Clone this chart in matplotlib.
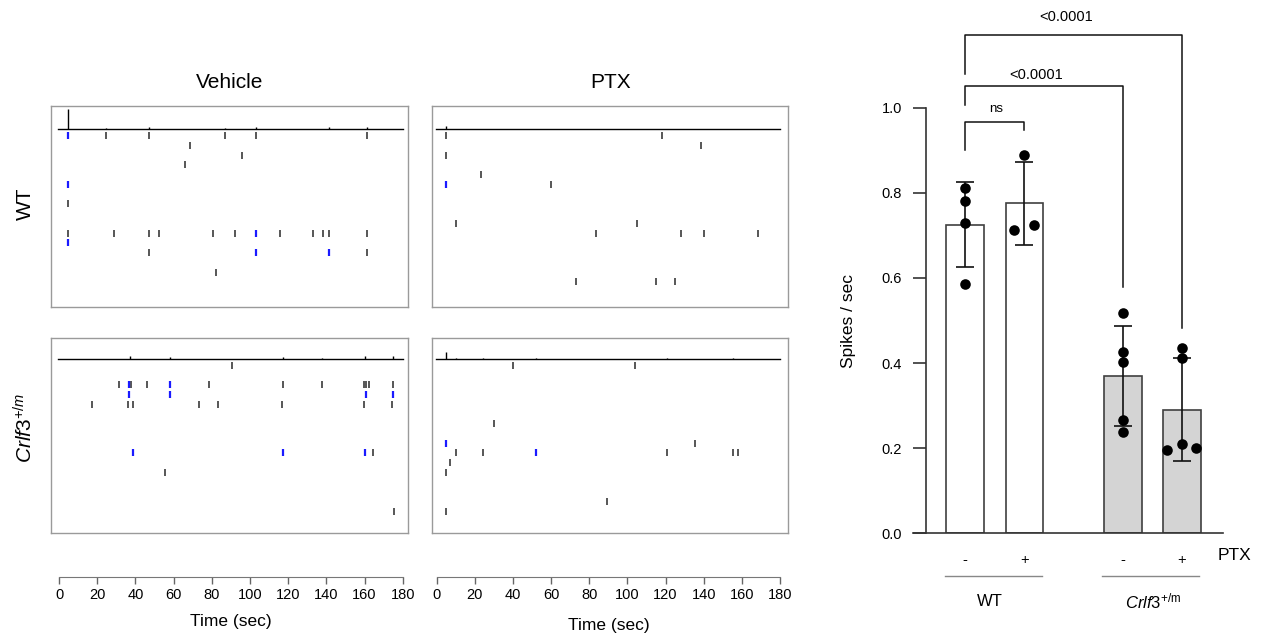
import numpy as np
import matplotlib
matplotlib.use("Agg")
import matplotlib.pyplot as plt

plt.rcParams['font.family'] = ['Liberation Sans', 'DejaVu Sans']
plt.rcParams['mathtext.fontset'] = 'custom'
plt.rcParams['mathtext.rm'] = 'Liberation Sans'
plt.rcParams['mathtext.it'] = 'Liberation Sans:italic'
plt.rcParams['mathtext.bf'] = 'Liberation Sans:bold'

# ---- raster data: spike times (sec) per neuron row ----
wt_veh_spikes = {0: [4.5, 24.6, 47.3, 87.0, 103.4, 161.3], 1: [68.4], 2: [95.9], 3: [66.0],
                 5: [4.5], 7: [4.5],
                 10: [4.5, 29.0, 47.3, 52.4, 80.5, 92.2, 103.4, 115.6, 133.2, 138.1, 141.3, 161.3],
                 11: [4.5], 12: [47.3, 103.4, 141.3, 161.3], 14: [82.2]}
wt_veh_burst = {0: [4.5], 5: [4.5], 10: [103.4], 11: [4.5], 12: [103.4, 141.3]}
wt_veh_trace_t = [4.5, 24.6, 47.3, 87.0, 103.4, 141.3, 161.3]
wt_veh_trace_h = [2.1, 0.15, 0.25, 0.15, 0.2, 0.2, 0.2]

wt_ptx_spikes = {0: [4.7, 118.2], 1: [138.4], 2: [4.7], 4: [23.2], 5: [4.7, 60.1],
                 9: [9.9, 105.2], 10: [83.5, 127.9, 140.2, 168.5], 15: [73.2, 115.2, 124.8]}
wt_ptx_burst = {5: [4.7]}
wt_ptx_trace_t = [4.7]
wt_ptx_trace_h = [0.35]

crlf_veh_spikes = {0: [90.4],
                   2: [31.4, 36.5, 37.5, 45.9, 58.3, 78.6, 117.3, 137.8, 159.9, 161.0, 162.4, 174.8],
                   3: [36.7, 58.3, 160.6, 175.1],
                   4: [17.5, 36.0, 38.6, 73.3, 83.5, 117.0, 159.9, 174.6],
                   9: [38.8, 117.3, 160.1, 164.7], 11: [55.4], 15: [175.3]}
crlf_veh_burst = {2: [36.5, 58.3], 3: [36.7, 58.3, 160.6, 175.1], 9: [38.8, 117.3, 160.1]}
crlf_veh_trace_t = [37.0, 58.3, 117.3, 137.8, 160.5, 175.0]
crlf_veh_trace_h = [0.25, 0.2, 0.2, 0.1, 0.25, 0.25]

crlf_ptx_spikes = {0: [40.0, 103.8], 6: [29.9], 8: [4.7, 135.3],
                   9: [10.3, 24.3, 51.9, 121.0, 155.6, 158.0], 10: [7.2], 11: [4.9],
                   14: [89.5], 15: [4.7]}
crlf_ptx_burst = {8: [4.7], 9: [51.9]}
crlf_ptx_trace_t = [4.7, 10.3, 24.3, 51.9, 121.0, 155.6]
crlf_ptx_trace_h = [0.65, 0.1, 0.1, 0.1, 0.1, 0.1]

time_ticks = [0, 20, 40, 60, 80, 100, 120, 140, 160, 180]

# ---- bar chart data ----
ptx_labels = ['-', '+', '-', '+']
bar_mean = [0.725, 0.775, 0.369, 0.290]
bar_sd = [0.100, 0.098, 0.117, 0.121]
points = [[0.812, 0.781, 0.730, 0.585],
          [0.888, 0.713, 0.725],
          [0.518, 0.425, 0.402, 0.266, 0.237],
          [0.436, 0.411, 0.196, 0.210, 0.201]]
comparisons = [(0, 1, 'ns'), (0, 2, '<0.0001'), (0, 3, '<0.0001')]

W, H = 1265, 638
fig = plt.figure(figsize=(W / 100, H / 100), dpi=100)


def px_axes(x0, y0, x1, y1):
    return fig.add_axes([x0 / W, 1 - y1 / H, (x1 - x0) / W, (y1 - y0) / H])


DARK = '#3a3a3a'
BLUE = '#1a1aff'


def raster(ax, spikes, burst, tr_t, tr_h, xlim, ylim):
    for row, times in spikes.items():
        blue = burst.get(row, [])
        plain = [t for t in times if t not in blue]
        ax.vlines(plain, row - 0.36, row + 0.36, color=DARK, lw=1.2)
        if blue:
            ax.vlines(blue, row - 0.36, row + 0.36, color=BLUE, lw=1.6)
    base = -0.67
    ax.plot([-0.5, 180], [base, base], color='k', lw=1.0)
    ax.vlines(tr_t, base, base - np.array(tr_h), color='k', lw=1.0)
    ax.set_xlim(*xlim)
    ax.set_ylim(*ylim)
    ax.set_xticks([])
    ax.set_yticks([])
    for s in ax.spines.values():
        s.set_color('#9a9a9a')
        s.set_linewidth(1.0)


xl_left = (-4.19, 182.8)
xl_right = (-2.46, 184.2)
raster(px_axes(51, 106, 408, 307), wt_veh_spikes, wt_veh_burst, wt_veh_trace_t, wt_veh_trace_h,
       xl_left, (17.57, -3.05))
raster(px_axes(432, 106, 788, 307), wt_ptx_spikes, wt_ptx_burst, wt_ptx_trace_t, wt_ptx_trace_h,
       xl_right, (17.57, -3.05))
raster(px_axes(51, 338, 408, 533), crlf_veh_spikes, crlf_veh_burst, crlf_veh_trace_t, crlf_veh_trace_h,
       xl_left, (17.2, -2.77))
raster(px_axes(432, 338, 788, 533), crlf_ptx_spikes, crlf_ptx_burst, crlf_ptx_trace_t, crlf_ptx_trace_h,
       xl_right, (17.2, -2.77))

# time axes
for x0, x1, lp in [(59, 402.7, 9), (436.7, 780, 12)]:
    tax = px_axes(x0, 576.7 - 0.5, x1, 576.7)
    tax.set_xlim(0, 180)
    tax.set_yticks([])
    for s in ['top', 'left', 'right']:
        tax.spines[s].set_visible(False)
    tax.spines['bottom'].set_color('#777777')
    tax.set_xticks(time_ticks)
    tax.tick_params(axis='x', length=5, width=1, color='#666666', labelsize=10.5, pad=3)
    tax.set_xlabel('Time (sec)', fontsize=12.5, labelpad=lp)

fig.text(230 / W, 1 - 82 / H, 'Vehicle', ha='center', va='center', fontsize=15)
fig.text(611 / W, 1 - 82 / H, 'PTX', ha='center', va='center', fontsize=15)
fig.text(25 / W, 1 - 204 / H, 'WT', ha='center', va='center', rotation=90, fontsize=15)
fig.text(25 / W, 1 - 428 / H, r'$\mathit{Crlf3}^{\mathit{+/m}}$', ha='center', va='center',
         rotation=90, fontsize=15)

# ---- bar chart ----
ax = px_axes(913, 107.7, 1223, 533.3)
pos = [0, 1, 2.66, 3.655]
jitter = [[0, 0, 0, 0], [0, -0.172, 0.16], [0, 0, 0, 0, 0], [0, 0, -0.255, 0, 0.24]]
fills = ['white', 'white', '#d4d4d4', '#d4d4d4']
ax.bar(pos, bar_mean, width=0.64, color=fills, edgecolor='#404040', linewidth=1.2, zorder=2)
ax.errorbar(pos, bar_mean, yerr=bar_sd, fmt='none', ecolor='#111111', elinewidth=1.2,
            capsize=6.5, capthick=1.2, zorder=3)
for i, vals in enumerate(points):
    ax.scatter(np.array(jitter[i]) + pos[i], vals, s=58, color='black', zorder=4, linewidths=0)

ax.set_xlim(-0.88, 4.348)
ax.set_ylim(0, 1.0)
ax.set_yticks([0.0, 0.2, 0.4, 0.6, 0.8, 1.0])
ax.set_yticklabels(['0.0', '0.2', '0.4', '0.6', '0.8', '1.0'])
ax.set_xticks([])
ax.spines['top'].set_visible(False)
ax.spines['right'].set_visible(False)
ax.spines['left'].set_position(('data', -0.656))
for s in ['left', 'bottom']:
    ax.spines[s].set_color('#333333')
    ax.spines[s].set_linewidth(1.2)
ax.tick_params(axis='y', length=9.4, width=1.2, color='#333333', labelsize=10.5, pad=8)
ax.set_ylabel('Spikes / sec', fontsize=12.5)
ax.yaxis.set_label_coords(-0.185, 0.5)

# significance brackets: (left start, top, right end, label x offset, label y)
bracket_geom = [(0.90, 0.967, 0.948, 0.514, 0.997),
                (1.007, 1.05, 0.578, 1.19, 1.077),
                (1.079, 1.171, 0.483, 1.695, 1.214)]
for (a, b, lab), (y0, yt, y1, lx, ly) in zip(comparisons, bracket_geom):
    ax.plot([pos[a], pos[a], pos[b], pos[b]], [y0, yt, yt, y1], color='#111111', lw=1.1,
            clip_on=False)
    ax.text(pos[a] + lx, ly, lab, ha='center', va='center', fontsize=10.5 if lab != 'ns' else 9.5)

# x annotations
for p, lab in zip(pos, ptx_labels):
    ax.text(p, -0.063, lab, ha='center', va='center', fontsize=10.5)
ax.text(4.54, -0.051, 'PTX', ha='center', va='center', fontsize=12.5, clip_on=False)
ax.plot([pos[0] - 0.341, pos[1] + 0.29], [-0.100, -0.100], color='#888888', lw=1.0, clip_on=False)
ax.plot([pos[2] - 0.346, pos[3] + 0.296], [-0.100, -0.100], color='#888888', lw=1.0, clip_on=False)
ax.text(0.418, -0.161, 'WT', ha='center', va='center', fontsize=12)
ax.text(3.167, -0.159, r'$\mathit{Crlf3}^{\mathrm{+/m}}$', ha='center', va='center', fontsize=12)

fig.savefig('out.png', dpi=100)
